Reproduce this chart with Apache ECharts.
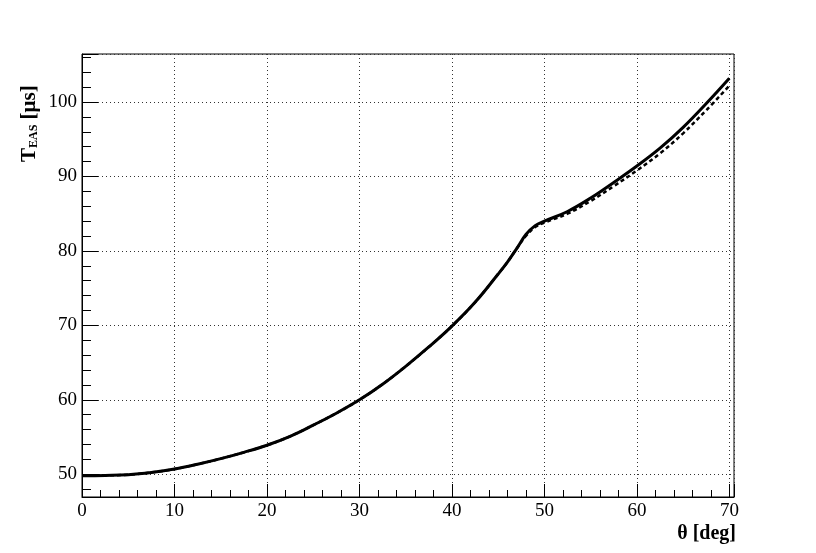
<!DOCTYPE html>
<html>
<head>
<meta charset="utf-8">
<script src="https://cdn.jsdelivr.net/npm/echarts@6/dist/echarts.min.js"></script>
<style>
  html, body { margin: 0; padding: 0; background: #fff; }
  #chart { width: 816px; height: 553px; }
</style>
</head>
<body>
<div id="chart"></div>
<script>
// zenith angle, deg
var theta = [0, 2.5, 5, 7.5, 10, 12.5, 15, 17.5, 20, 22.5, 25, 27.5, 30, 32.5, 35, 37.5, 40, 42.5, 45, 46, 47, 48, 49, 50, 52.5, 55, 57.5, 60, 62.5, 65, 67.5, 70]
// T_EAS, solid curve
var tSolid = [49.8, 49.85, 49.95, 50.25, 50.7, 51.35, 52.1, 52.95, 53.9, 55.1, 56.6, 58.2, 60.0, 62.1, 64.5, 67.1, 69.9, 73.1, 76.9, 78.5, 80.3, 82.2, 83.4, 84.0, 85.3, 87.1, 89.2, 91.4, 93.8, 96.6, 99.8, 103.2]
// T_EAS, dashed curve
var tDashed = [49.8, 49.85, 49.95, 50.25, 50.7, 51.35, 52.1, 52.95, 53.9, 55.1, 56.6, 58.2, 60.0, 62.1, 64.5, 67.1, 69.9, 73.1, 76.9, 78.5, 80.3, 82.0, 83.2, 83.8, 85.0, 86.7, 88.7, 90.8, 93.1, 95.8, 98.9, 102.2]

function pairs(xs, ys) {
  return xs.map(function (x, i) { return [x, ys[i]] })
}

var chart = echarts.init(document.getElementById('chart'))
var serif = '"Liberation Serif", "DejaVu Serif", serif'

chart.setOption({
  animation: false,
  grid: {
    left: 82,
    right: 82,
    top: 54,
    bottom: 56,
    show: true,
    borderColor: '#000',
    borderWidth: 1
  },
  xAxis: {
    type: 'value',
    min: 0,
    max: 70.5,
    splitNumber: 7,
    axisLine: { lineStyle: { color: '#000', width: 1 } },
    axisTick: { inside: true, length: 13, lineStyle: { color: '#000' } },
    minorTick: { show: true, splitNumber: 5, length: 7, lineStyle: { color: '#000' } },
    splitLine: { show: true, lineStyle: { color: '#333', type: [1, 3], width: 1 } },
    axisLabel: {
      color: '#000',
      fontFamily: serif,
      fontSize: 19,
      margin: 5,
      formatter: function (v) { return v % 10 === 0 ? String(v) : '' }
    }
  },
  yAxis: {
    type: 'value',
    min: 46.95,
    max: 106.45,
    splitNumber: 6,
    axisLine: { show: true, lineStyle: { color: '#000', width: 1 } },
    axisTick: { show: true, inside: true, length: 16, lineStyle: { color: '#000' } },
    minorTick: { show: true, splitNumber: 5, length: 9, lineStyle: { color: '#000' } },
    splitLine: { show: true, lineStyle: { color: '#333', type: [1, 3], width: 1 } },
    axisLabel: {
      color: '#000',
      fontFamily: serif,
      fontSize: 19,
      margin: 5,
      formatter: function (v) { return v % 10 === 0 ? String(v) : '' }
    }
  },
  graphic: [
    {
      type: 'text',
      x: 40,
      y: 162,
      rotation: Math.PI / 2,
      style: {
        text: '{t|T}{s|EAS}{t| [μs]}',
        align: 'left',
        verticalAlign: 'bottom',
        fill: '#000',
        rich: {
          t: { fontFamily: serif, fontWeight: 'bold', fontSize: 21, lineHeight: 21, fill: '#000', verticalAlign: 'top' },
          s: { fontFamily: serif, fontWeight: 'bold', fontSize: 12, lineHeight: 12, fill: '#000', verticalAlign: 'bottom', padding: [13, 0, 0, 0] }
        }
      }
    },
    {
      type: 'text',
      x: 736,
      y: 534,
      style: {
        text: 'θ [deg]',
        align: 'right',
        verticalAlign: 'middle',
        fill: '#000',
        font: 'bold 20px ' + serif
      }
    }
  ],
  series: [
    {
      name: 'solid',
      type: 'line',
      data: pairs(theta, tSolid),
      showSymbol: false,
      smooth: 0.4,
      lineStyle: { color: '#000', width: 3 },
      z: 3
    },
    {
      name: 'dashed',
      type: 'line',
      data: pairs(theta, tDashed),
      showSymbol: false,
      smooth: 0.4,
      lineStyle: { color: '#000', width: 2.5, type: [4, 3] },
      z: 4
    }
  ]
})
</script>
</body>
</html>
